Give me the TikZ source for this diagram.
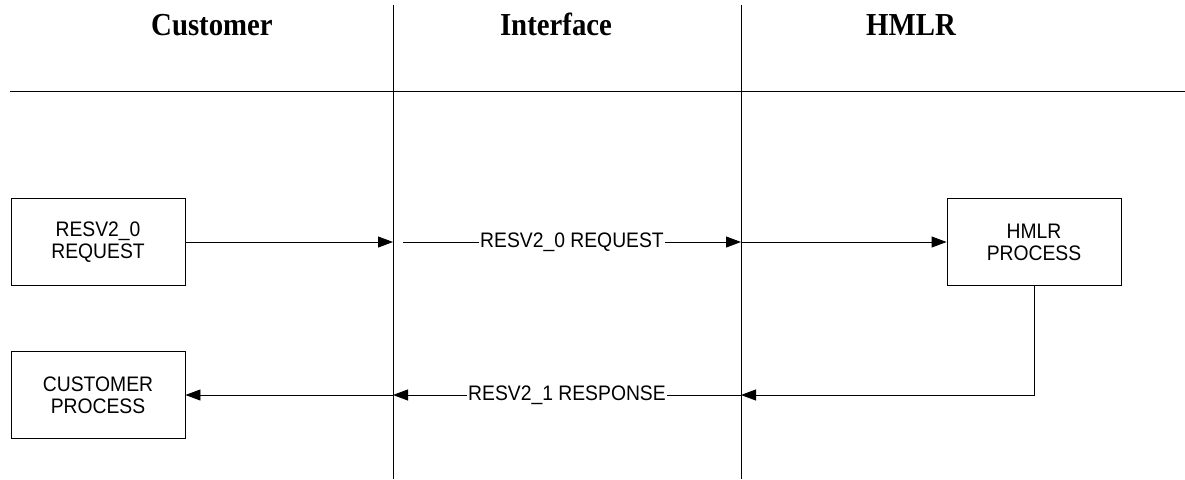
\documentclass[tikz,border=0pt]{standalone}
\usepackage{fontspec}
\setmainfont{Liberation Serif}
\newfontfamily\arialfont[FakeStretch=0.92]{Liberation Sans}
\newfontfamily\headfont[FakeStretch=0.9]{Liberation Serif}
\usetikzlibrary{arrows.meta}
\begin{document}
\begin{tikzpicture}[x=1pt,y=-1pt,
  lane/.style={draw=black,line width=0.9pt},
  procbox/.style={draw=black,line width=0.9pt,minimum width=174pt,minimum height=87pt,
    align=center,inner sep=0pt,font=\arialfont\fontsize{21}{22}\selectfont},
  header/.style={font=\headfont\bfseries\fontsize{32}{34}\selectfont,anchor=base,inner sep=0pt},
  msg/.style={draw=black,line width=0.9pt,-{Triangle[length=15pt,width=11pt]}},
  lbl/.style={fill=white,inner sep=1pt,font=\arialfont\fontsize{21}{22}\selectfont}]
\useasboundingbox (0,0) rectangle (1185,479);
\fill[white] (0,0) rectangle (1185,479);
% headers
\node[header] (hcust) at (212,35) {Customer};
\node[header] (hint) at (556,35) {Interface};
\node[header] (hhmlr) at (911,35) {HMLR};
% lanes
\coordinate (hl) at (10,91);
\coordinate (hr) at (1185,91);
\draw[lane] (hl) -- (hr);
\coordinate (l1t) at (393,5);
\coordinate (l1b) at (393,479);
\coordinate (l2t) at (741,5);
\coordinate (l2b) at (741,479);
\draw[lane] (l1t) -- (l1b);
\draw[lane] (l2t) -- (l2b);
% boxes
\node[procbox] (req) at (98,242) {RESV2\_0\\REQUEST};
\node[procbox] (hmlr) at (1034,242) {HMLR\\PROCESS};
\node[procbox] (cust) at (98,395) {CUSTOMER\\PROCESS};
% request flow
\coordinate (a1) at (393,242);
\coordinate (b0) at (403,242);
\coordinate (a2) at (741,242);
\draw[msg] (req.east) -- (a1);
\draw[msg] (b0) -- node[lbl] (lreq) {RESV2\_0 REQUEST} (a2);
\draw[msg] (a2) -- (hmlr.west);
% response flow
\coordinate (r1) at (741,395);
\coordinate (r2) at (393,395);
\draw[msg] (hmlr.south) |- (r1);
\draw[msg] (r1) -- node[lbl] (lresp) {RESV2\_1 RESPONSE} (r2);
\draw[msg] (r2) -- (cust.east);
\end{tikzpicture}
\end{document}
